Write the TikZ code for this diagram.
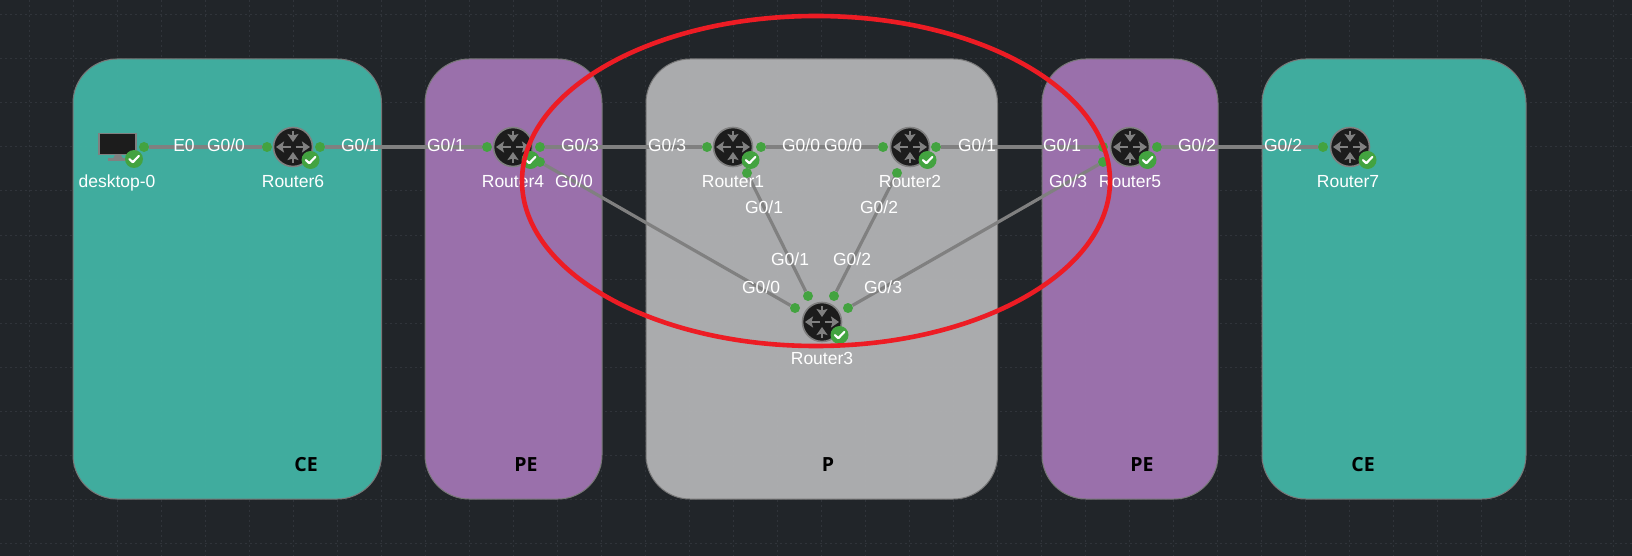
\documentclass[tikz,border=0pt]{standalone}
\usepackage{fontspec}
\setmainfont{Liberation Sans}
\newfontfamily\tagfont{Open Sans}[BoldFont={Open Sans Bold}]
\usetikzlibrary{arrows.meta}
\definecolor{bgc}{HTML}{212529}
\definecolor{gridc}{HTML}{30343A}
\definecolor{tealc}{HTML}{42B1A2}
\definecolor{purplec}{HTML}{9E73B0}
\definecolor{greyc}{HTML}{AFB0B2}
\definecolor{edgec}{HTML}{777777}
\definecolor{linkc}{HTML}{808080}
\definecolor{dotc}{HTML}{43A340}
\definecolor{devc}{HTML}{1C1C1C}
\definecolor{redc}{HTML}{ED1C24}
\tikzset{
  zone/.style={draw=edgec,line width=1pt,rounded corners=44pt,fill opacity=.97},
  gridline/.style={gridc,line width=1pt,dash pattern=on 2pt off 3pt},
  port/.style={circle,fill=dotc,inner sep=0pt,minimum size=10pt},
  link/.style={linkc,line width=3.2pt},
  lbl/.style={text=white,font=\fontsize{17.5}{17.5}\selectfont,inner sep=0pt,text height=13pt,text depth=4pt},
  tag/.style={text=black,font=\tagfont\bfseries\fontsize{19.5}{20}\selectfont,inner sep=0pt},
  routerbody/.style={circle,fill=devc,draw=linkc,line width=1.6pt,minimum size=39pt,inner sep=0pt},
  badge/.style={circle,fill=dotc,minimum size=18pt,inner sep=0pt},
  icon/.style={linkc,line width=2.8pt,-{Stealth[length=8pt,width=11pt,inset=1.5pt]}},
  tick/.style={white,line width=2.2pt,line cap=round,line join=round},
  routericon/.pic={
    \draw[icon] (0,-16) -- (0,-5);
    \draw[icon] (0,16) -- (0,5);
    \draw[icon] (-2.5,0) -- (-17,0);
    \draw[icon] (2.5,0) -- (17,0);
  }
}
\newcommand{\chk}[3]{\node[badge] (#1) at (#2,#3) {};
  \draw[tick] (#2-4.5,#3+0.2) -- (#2-1.2,#3+3.2) -- (#2+4.8,#3-3);}
\newcommand{\rtr}[3]{\node[routerbody] (#1) at (#2,#3) {};
  \pic at (#2,#3) {routericon};
  \chk{#1b}{#2+17.5}{#3+13}}
\begin{document}
\begin{tikzpicture}[x=1pt,y=-1pt]
\useasboundingbox (0,0) rectangle (1632,556);
\fill[bgc] (0,0) rectangle (1632,556);
\foreach \i in {0,...,37} \draw[gridline] (29+44*\i,0) -- (29+44*\i,556);
\foreach \j in {0,...,12} \draw[gridline] (0,15+44*\j) -- (1632,15+44*\j);
% zones
\draw[zone,fill=tealc] (73,59) rectangle (381.5,499);
\draw[zone,fill=purplec] (425,59) rectangle (602,499);
\draw[zone,fill=greyc] (646,59) rectangle (997.5,499);
\draw[zone,fill=purplec] (1042,59) rectangle (1218,499);
\draw[zone,fill=tealc] (1262,59) rectangle (1526,499);
\node[tag] (t1) at (306,465) {CE};
\node[tag] (t2) at (526,465) {PE};
\node[tag] (t3) at (828,465) {P};
\node[tag] (t4) at (1142,465) {PE};
\node[tag] (t5) at (1363,465) {CE};
% ports
\node[port] (pd) at (144,147) {};
\node[port] (p6l) at (267,147) {};
\node[port] (p6r) at (320,147) {};
\node[port] (p4l) at (487,147) {};
\node[port] (p4r) at (540,147) {};
\node[port] (p4d) at (540,162) {};
\node[port] (p1l) at (707,147) {};
\node[port] (p1r) at (761,147) {};
\node[port] (p1d) at (747,173) {};
\node[port] (p2l) at (883,147) {};
\node[port] (p2r) at (936,147) {};
\node[port] (p2d) at (897,173) {};
\node[port] (p5l) at (1103,147) {};
\node[port] (p5r) at (1157,147) {};
\node[port] (p5d) at (1103,162) {};
\node[port] (p7l) at (1323,147) {};
\node[port] (p3a) at (795,308) {};
\node[port] (p3b) at (808,296) {};
\node[port] (p3c) at (834,296) {};
\node[port] (p3d) at (848,308) {};
% links
\draw[link] (pd) -- (p6l);
\draw[link] (p6r) -- (p4l);
\draw[link] (p4r) -- (p1l);
\draw[link] (p1r) -- (p2l);
\draw[link] (p2r) -- (p5l);
\draw[link] (p5r) -- (p7l);
\draw[link] (p4d) -- (p3a);
\draw[link] (p1d) -- (p3b);
\draw[link] (p2d) -- (p3c);
\draw[link] (p5d) -- (p3d);
% desktop
\fill[linkc] (108,158.5) -- (128,158.5) -- (128,161) -- (108,161) -- cycle;
\fill[linkc] (115,155) -- (121,155) -- (123,158.5) -- (113,158.5) -- cycle;
\node[draw=linkc,fill=devc,line width=1.5pt,minimum width=37pt,minimum height=21pt,inner sep=0pt] (desk) at (117.5,144) {};
\chk{deskb}{134}{159}
% routers
\rtr{r6}{293}{147}
\rtr{r4}{513}{147}
\rtr{r1}{733}{147}
\rtr{r2}{910}{147}
\rtr{r5}{1130}{147}
\rtr{r7}{1350}{147}
\rtr{r3}{822}{322}
% names
\node[lbl] (n0) at (117,183.5) {desktop-0};
\node[lbl] (n6) at (293,183.5) {Router6};
\node[lbl] (n4) at (513,183.5) {Router4};
\node[lbl] (n1) at (733,183.5) {Router1};
\node[lbl] (n2) at (910,183.5) {Router2};
\node[lbl] (n5) at (1130,183.5) {Router5};
\node[lbl] (n7) at (1348,183.5) {Router7};
\node[lbl] (n3) at (822,359.5) {Router3};
% port labels
\node[lbl] (a1) at (184,147.5) {E0};
\node[lbl] (a2) at (226,147.5) {G0/0};
\node[lbl] (a3) at (360,147.5) {G0/1};
\node[lbl] (a4) at (446,147.5) {G0/1};
\node[lbl] (a5) at (580,147.5) {G0/3};
\node[lbl] (a6) at (667,147.5) {G0/3};
\node[lbl] (a7) at (801,147.5) {G0/0};
\node[lbl] (a8) at (843,147.5) {G0/0};
\node[lbl] (a9) at (977,147.5) {G0/1};
\node[lbl] (a10) at (1062,147.5) {G0/1};
\node[lbl] (a11) at (1197,147.5) {G0/2};
\node[lbl] (a12) at (1283,147.5) {G0/2};
\node[lbl] (a13) at (574,183.5) {G0/0};
\node[lbl] (a14) at (764,209.5) {G0/1};
\node[lbl] (a15) at (879,209.5) {G0/2};
\node[lbl] (a16) at (1068,183.5) {G0/3};
\node[lbl] (a17) at (790,261) {G0/1};
\node[lbl] (a18) at (852,261) {G0/2};
\node[lbl] (a19) at (761,289) {G0/0};
\node[lbl] (a20) at (883,289) {G0/3};
% red ellipse
\draw[redc,line width=4.6pt] (816,181) ellipse [x radius=294,y radius=165];
\end{tikzpicture}
\end{document}
